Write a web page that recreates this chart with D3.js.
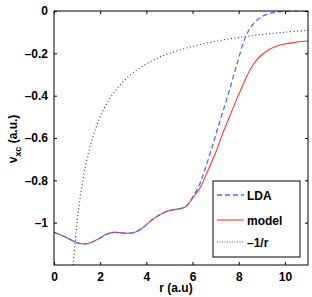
<!DOCTYPE html>
<html>
<head>
<meta charset="utf-8">
<script src="https://cdn.jsdelivr.net/npm/d3@7"></script>
<style>
  body { margin: 0; background: #fff; }
  text { font-family: "Liberation Sans", Arial, sans-serif; font-weight: bold; }
</style>
</head>
<body>
<div id="chart"></div>
<script>
// values
const rModel = [0, 0.5, 1.0, 1.3, 1.6, 2.0, 2.3, 2.6, 2.9, 3.2, 3.5, 3.8, 4.1, 4.4, 4.7, 5.0, 5.4, 5.7, 6.0, 6.3, 6.6, 7.0, 7.3, 7.6, 7.9, 8.2, 8.5, 8.8, 9.2, 9.6, 10.0, 10.5, 11.0];
const vModel = [-1.045, -1.068, -1.095, -1.1, -1.094, -1.072, -1.054, -1.046, -1.048, -1.05, -1.045, -1.028, -1.0, -0.975, -0.956, -0.943, -0.935, -0.925, -0.885, -0.84, -0.77, -0.67, -0.58, -0.5, -0.42, -0.345, -0.275, -0.228, -0.19, -0.168, -0.156, -0.147, -0.142];

const rLDA = [0, 0.5, 1.0, 1.3, 1.6, 2.0, 2.3, 2.6, 2.9, 3.2, 3.5, 3.8, 4.1, 4.4, 4.7, 5.0, 5.4, 5.7, 6.0, 6.3, 6.5, 6.8, 7.1, 7.5, 7.9, 8.3, 8.6, 8.9, 9.3, 9.8, 10.5, 11.0];
const vLDA = [-1.045, -1.068, -1.095, -1.1, -1.094, -1.072, -1.054, -1.046, -1.048, -1.05, -1.045, -1.028, -1.0, -0.975, -0.956, -0.943, -0.935, -0.925, -0.88, -0.82, -0.76, -0.66, -0.55, -0.41, -0.26, -0.12, -0.065, -0.033, -0.012, -0.003, 0, 0];

const rCoul = [0.83, 0.9, 1.0, 1.1, 1.25, 1.4, 1.6, 1.8, 2.0, 2.3, 2.6, 3.0, 3.5, 4.0, 4.5, 5.0, 6.0, 7.0, 8.0, 9.0, 10.0, 11.0];
const vCoul = [-1.2, -1.111, -1.0, -0.909, -0.8, -0.714, -0.625, -0.556, -0.5, -0.435, -0.385, -0.333, -0.286, -0.25, -0.222, -0.2, -0.167, -0.143, -0.125, -0.111, -0.1, -0.091];

const xTicks = [0, 2, 4, 6, 8, 10];
const yTicks = [0, -0.2, -0.4, -0.6, -0.8, -1];
const legendNames = ['LDA', 'model', '\u20131/r'];

const width = 312, height = 297;
const mLeft = 54, mRight = 308, mTop = 11, mBottom = 265;

const x = d3.scaleLinear().domain([0, 11]).range([mLeft, mRight]);
const y = d3.scaleLinear().domain([-1.2, 0]).range([mBottom, mTop]);

const svg = d3.select('#chart').append('svg')
    .attr('width', width)
    .attr('height', height);

const line = d3.line()
    .x(d => x(d[0]))
    .y(d => y(d[1]))
    .curve(d3.curveCatmullRom.alpha(0.5));

svg.append('clipPath').attr('id', 'clip')
  .append('rect')
    .attr('x', mLeft).attr('y', mTop)
    .attr('width', mRight - mLeft).attr('height', mBottom - mTop);

const plot = svg.append('g').attr('clip-path', 'url(#clip)');

// series styles
const series = [
  { data: d3.zip(rLDA, vLDA), color: '#4f6ff5', dash: '5,3', w: 1.3 },
  { data: d3.zip(rModel, vModel), color: '#f23a3a', dash: null, w: 1.1 },
  { data: d3.zip(rCoul, vCoul), color: '#333', dash: '1,2.5', w: 1.1 }
];

// draw model first so the dashed LDA sits over it
[series[2], series[1], series[0]].forEach(s => {
  plot.append('path')
      .attr('d', line(s.data))
      .attr('fill', 'none')
      .attr('stroke', s.color)
      .attr('stroke-width', s.w)
      .attr('stroke-dasharray', s.dash);
});

// tick labels use the long dash like the original
const yFmt = d => d === 0 ? '0' : (d === -1 ? '\u20131' : '\u2013' + d3.format('.1f')(-d));

// axes (ticks inward, mirrored)
const tickLen = 3;
svg.append('g')
    .attr('transform', `translate(0,${mBottom})`)
    .call(d3.axisBottom(x).tickValues(xTicks).tickSize(-tickLen).tickPadding(7).tickFormat(d3.format('d')))
    .call(g => g.select('.domain').remove());
svg.append('g')
    .attr('transform', `translate(0,${mTop})`)
    .call(d3.axisTop(x).tickValues(xTicks).tickSize(-tickLen).tickFormat(''))
    .call(g => g.select('.domain').remove());
svg.append('g')
    .attr('transform', `translate(${mLeft},0)`)
    .call(d3.axisLeft(y).tickValues(yTicks).tickSize(-tickLen).tickPadding(6).tickFormat(yFmt))
    .call(g => g.select('.domain').remove());
svg.append('g')
    .attr('transform', `translate(${mRight},0)`)
    .call(d3.axisRight(y).tickValues(yTicks).tickSize(-tickLen).tickFormat(''))
    .call(g => g.select('.domain').remove());

svg.selectAll('.tick text')
    .style('font-size', '12px')
    .style('font-family', '"Liberation Sans", Arial, sans-serif')
    .style('font-weight', 'bold')
    .attr('fill', '#000');
svg.selectAll('.tick line').attr('stroke', '#000');

// frame
svg.append('rect')
    .attr('x', mLeft).attr('y', mTop)
    .attr('width', mRight - mLeft).attr('height', mBottom - mTop)
    .attr('fill', 'none')
    .attr('stroke', '#000')
    .attr('stroke-width', 1);

// axis labels
svg.append('text')
    .attr('x', 176)
    .attr('y', 292)
    .attr('text-anchor', 'middle')
    .style('font-size', '12px')
    .text('r (a.u)');

const yl = svg.append('text')
    .attr('transform', 'translate(17,139) rotate(-90)')
    .attr('text-anchor', 'middle')
    .style('font-size', '12px');
yl.append('tspan').text('v');
yl.append('tspan').attr('dy', 4).style('font-size', '9px').text('xc');
yl.append('tspan').attr('dy', -4).text(' (a.u.)');

// legend
const legend = svg.append('g');
legend.append('rect')
    .attr('x', 213).attr('y', 181)
    .attr('width', 87).attr('height', 76)
    .attr('fill', '#fff')
    .attr('stroke', '#000')
    .attr('stroke-width', 1);

const rowY = [195, 220, 242];
legendNames.forEach((name, i) => {
  const s = series[i];
  legend.append('line')
      .attr('x1', 217).attr('x2', 244)
      .attr('y1', rowY[i]).attr('y2', rowY[i])
      .attr('stroke', s.color)
      .attr('stroke-width', i === 2 ? 0.8 : s.w)
      .attr('stroke-dasharray', i === 2 ? '1,1.5' : s.dash);
  legend.append('text')
      .attr('x', 247)
      .attr('y', rowY[i] + 4.5)
      .style('font-size', '12px')
      .text(name);
});
</script>
</body>
</html>
